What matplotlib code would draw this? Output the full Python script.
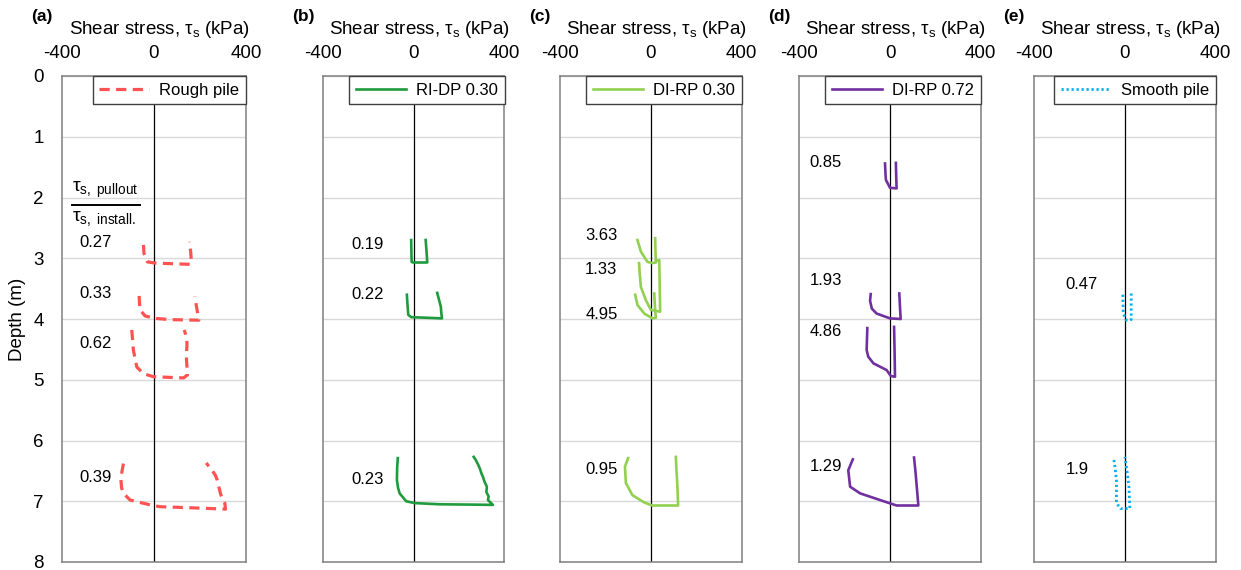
import matplotlib
matplotlib.use('Agg')
import matplotlib.pyplot as plt

plt.rcParams['font.family'] = 'Liberation Sans'
plt.rcParams['mathtext.fontset'] = 'custom'
plt.rcParams['mathtext.rm'] = 'Liberation Sans'
plt.rcParams['mathtext.it'] = 'Liberation Sans'
plt.rcParams['mathtext.bf'] = 'Liberation Sans:bold'
plt.rcParams['axes.unicode_minus'] = False

# shear stress (kPa) vs depth (m), one trace per pullout stage

# (a) rough pile
rough_stress = [
    [-45, -43, -28, 6, 80, 158, 163, 160, 155],
    [-64, -62, -60, -38, 6, 71, 195, 190, 183, 177],
    [-96, -92, -89, -74, -45, -2, 129, 146, 141, 144, 140, 132],
    [-132, -138, -143, -140, -132, -103, -16, 27, 180, 311, 308, 296, 289, 282, 275, 268, 253, 240, 227],
]
rough_depth = [
    [2.78, 2.92, 3.06, 3.08, 3.09, 3.10, 3.06, 2.90, 2.73],
    [3.62, 3.75, 3.85, 3.95, 3.99, 4.01, 4.02, 3.90, 3.75, 3.63],
    [4.18, 4.35, 4.51, 4.79, 4.90, 4.95, 4.97, 4.92, 4.62, 4.40, 4.28, 4.18],
    [6.38, 6.50, 6.65, 6.78, 6.87, 6.98, 7.06, 7.09, 7.11, 7.13, 7.03, 6.95, 6.87, 6.76, 6.65, 6.58, 6.49, 6.43, 6.37],
]
rough_ratio = ['0.27', '0.33', '0.62', '0.39']
rough_ratio_depth = [2.74, 3.58, 4.40, 6.61]

# (b) RI-DP 0.30
ridp_stress = [
    [-12, -11, -10, -4, 30, 59, 56, 52],
    [-31, -28, -25, -12, 60, 124, 121, 119, 103],
    [-71, -74, -75, -70, -63, -34, 3, 113, 250, 349, 327, 330, 320, 322, 312, 305, 298, 292, 284, 273, 264],
]
ridp_depth = [
    [2.70, 2.90, 3.06, 3.07, 3.07, 3.07, 2.90, 2.70],
    [3.60, 3.78, 3.93, 3.97, 3.98, 3.99, 3.90, 3.80, 3.57],
    [6.29, 6.45, 6.65, 6.78, 6.87, 7.00, 7.03, 7.05, 7.055, 7.06, 6.98, 6.92, 6.85, 6.76, 6.68, 6.60, 6.54, 6.47, 6.40, 6.32, 6.27],
]
ridp_ratio = ['0.19', '0.22', '0.23']
ridp_ratio_depth = [2.77, 3.59, 6.64]

# (c) DI-RP 0.30
dirp30_stress = [
    [-59, -44, -15, 7, 22, 20, 19],
    [-52, -49, -44, -22, 0, 41, 39, 37, 25],
    [-69, -59, -29, 7, 22, 18, 15],
    [-100, -114, -110, -81, -29, 7, 120, 117, 113, 110],
]
dirp30_depth = [
    [2.70, 2.89, 3.06, 3.08, 3.07, 2.85, 2.67],
    [3.08, 3.25, 3.47, 3.69, 3.85, 3.88, 3.45, 3.03, 3.04],
    [3.60, 3.77, 3.91, 3.99, 3.98, 3.80, 3.58],
    [6.29, 6.43, 6.70, 6.90, 7.02, 7.07, 7.07, 6.76, 6.50, 6.27],
]
dirp30_ratio = ['3.63', '1.33', '4.95', '0.95']
dirp30_ratio_depth = [2.62, 3.18, 3.93, 6.47]

# (d) DI-RP 0.72
dirp72_stress = [
    [-22, -20, -18, 0, 29, 27, 26],
    [-85, -88, -80, -59, 0, 47, 44, 41],
    [-100, -103, -96, -73, -15, 4, 22, 20, 18],
    [-164, -184, -176, -132, -44, 29, 125, 118, 112, 106],
]
dirp72_depth = [
    [1.44, 1.60, 1.71, 1.84, 1.85, 1.60, 1.43],
    [3.59, 3.70, 3.83, 3.91, 3.99, 4.00, 3.80, 3.58],
    [4.15, 4.51, 4.62, 4.73, 4.84, 4.94, 4.95, 4.50, 4.13],
    [6.31, 6.49, 6.76, 6.87, 6.98, 7.07, 7.07, 6.76, 6.50, 6.28],
]
dirp72_ratio = ['0.85', '1.93', '4.86', '1.29']
dirp72_ratio_depth = [1.43, 3.37, 4.20, 6.42]

# (e) smooth pile
smooth_stress = [
    [-9, -8, -7, 7, 28, 28, 28],
    [-48, -42, -37, -37, -19, 22, 20, 18, 11, 0],
]
smooth_depth = [
    [3.60, 3.75, 3.91, 4.02, 4.01, 3.80, 3.58],
    [6.32, 6.48, 6.65, 7.03, 7.12, 7.12, 6.95, 6.76, 6.54, 6.27],
]
smooth_ratio = ['0.47', '1.9']
smooth_ratio_depth = [3.44, 6.47]

panels = [
    dict(tag='(a)', name='Rough pile', stress=rough_stress, depth=rough_depth,
         ratio=rough_ratio, ratio_depth=rough_ratio_depth, text_x=-324,
         color='#ff5252', ls=(0, (3.2, 2.0)), lw=2.3, left=61.7, width=184.3),
    dict(tag='(b)', name='RI-DP 0.30', stress=ridp_stress, depth=ridp_depth,
         ratio=ridp_ratio, ratio_depth=ridp_ratio_depth, text_x=-276,
         color='#1f9a3c', ls='-', lw=1.9, left=323.3, width=181.2),
    dict(tag='(c)', name='DI-RP 0.30', stress=dirp30_stress, depth=dirp30_depth,
         ratio=dirp30_ratio, ratio_depth=dirp30_ratio_depth, text_x=-289,
         color='#92d050', ls='-', lw=1.9, left=560.0, width=181.7),
    dict(tag='(d)', name='DI-RP 0.72', stress=dirp72_stress, depth=dirp72_depth,
         ratio=dirp72_ratio, ratio_depth=dirp72_ratio_depth, text_x=-356,
         color='#7030a0', ls='-', lw=1.9, left=799.3, width=181.4),
    dict(tag='(e)', name='Smooth pile', stress=smooth_stress, depth=smooth_depth,
         ratio=smooth_ratio, ratio_depth=smooth_ratio_depth, text_x=-261,
         color='#00b0f0', ls=(0, (0.8, 1.0)), lw=2.0, left=1034.0, width=181.7),
]

W, H = 1241, 570
fig = plt.figure(figsize=(W / 100, H / 100), dpi=100)
top_px, bot_px = 76, 562
ax_h = bot_px - top_px

for i, p in enumerate(panels):
    ax = fig.add_axes([p['left'] / W, (H - bot_px) / H, p['width'] / W, ax_h / H])
    ax.set_xlim(-400, 400)
    ax.set_ylim(8, 0)
    ax.xaxis.tick_top()
    ax.xaxis.set_label_position('top')
    ax.set_xticks([-400, 0, 400])
    ax.set_yticks(range(9))
    ax.tick_params(length=0, labelsize=13.5, pad=10)
    ax.tick_params(axis='y', pad=13)
    if i > 0:
        ax.tick_params(labelleft=False)
    ax.grid(axis='y', color='#d9d9d9', lw=1.0)
    ax.set_axisbelow(True)
    for sp in ax.spines.values():
        sp.set_color('#7f7f7f')
        sp.set_linewidth(1.1)
    ax.axvline(0, color='black', lw=0.9, zorder=1.5)

    for k, (s, d) in enumerate(zip(p['stress'], p['depth'])):
        ax.plot(s, d, color=p['color'], ls=p['ls'], lw=p['lw'],
                label=p['name'] if k == 0 else None, zorder=3)

    for txt, dep in zip(p['ratio'], p['ratio_depth']):
        ax.text(p['text_x'], dep, txt, fontsize=12, ha='left', va='center')

    ax.set_xlabel(r'Shear stress, $\tau_\mathrm{s}$ (kPa)', fontsize=13.5)
    ax.xaxis.set_label_coords(0.53, 1 + (top_px - 29) / ax_h)
    ax.xaxis.label.set_verticalalignment('center')

    leg = ax.legend(loc='upper right', borderaxespad=0, fancybox=False, framealpha=1,
                    edgecolor='#404040', fontsize=12, handlelength=3.0,
                    handletextpad=0.6, borderpad=0.4)
    leg.get_frame().set_linewidth(1.0)
    leg.set_zorder(5)

    fig.text((p['left'] - 9) / W, 1 - 17 / H, p['tag'], ha='right', va='center',
             fontsize=12.5, fontweight='bold')

    if i == 0:
        ax.set_ylabel('Depth (m)', fontsize=13.5, labelpad=5)
        # ratio key: pullout over installation shear stress
        ax.text(-357, 1.88, r'$\tau_\mathrm{s,\ pullout}$', fontsize=14, ha='left', va='center')
        ax.plot([-357, -60], [2.12, 2.12], color='black', lw=1.4)
        ax.text(-357, 2.35, r'$\tau_\mathrm{s,\ install.}$', fontsize=14, ha='left', va='center')

fig.savefig('out.png', dpi=100)
